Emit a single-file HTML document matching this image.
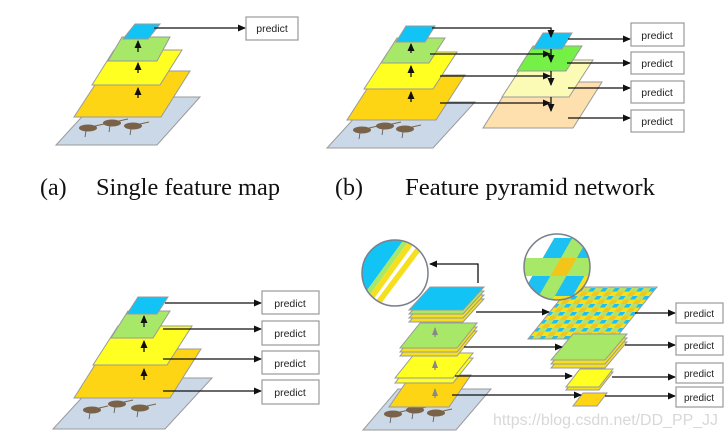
<!DOCTYPE html>
<html><head><meta charset="utf-8"><style>
html,body{margin:0;padding:0;background:#fff;}
svg{display:block;}
.b{stroke:#9a9a9a;stroke-width:1;}
.box{fill:#fff;stroke:#999;stroke-width:1.2;}
.pt{font-family:"Liberation Sans",sans-serif;font-size:10.5px;fill:#222;}
.ln{stroke:#111;stroke-width:1.3;fill:none;}
.cap{font-family:"Liberation Serif",serif;font-size:24px;fill:#111;}
</style></head><body>
<svg width="727" height="438" viewBox="0 0 727 438" xmlns="http://www.w3.org/2000/svg">
<defs>
<marker id="ah" markerWidth="8" markerHeight="8" refX="7" refY="4" orient="auto" markerUnits="userSpaceOnUse"><path d="M0,0.5 L8,4 L0,7.5z" fill="#111"/></marker>
<marker id="ag" markerWidth="8" markerHeight="8" refX="7" refY="4" orient="auto" markerUnits="userSpaceOnUse"><path d="M0,1 L8,4 L0,7z" fill="#888"/></marker>
<pattern id="chk" width="12" height="8" patternUnits="userSpaceOnUse" patternTransform="skewX(-38)">
<rect width="12" height="8" fill="#f5e020"/><rect x="0" y="0" width="5" height="3.5" fill="#1cc0f2"/><rect x="6" y="4" width="6" height="4" fill="#f2c51a"/><rect x="6" y="0" width="6" height="4" fill="#b5e070"/></pattern>
<g id="birds"><ellipse cx="0" cy="0" rx="9" ry="3.5" fill="#7a6248"/><line x1="7" y1="-2" x2="16" y2="-4" stroke="#7a6248" stroke-width="1"/><line x1="-2" y1="3" x2="-3" y2="9" stroke="#555" stroke-width="0.8"/></g>
</defs>

<!-- Panel (a) -->
<polygon points="56,145 157,145 200,97 100,97" fill="#cbd8e8" class="b"/>
<use href="#birds" x="88" y="128"/><use href="#birds" x="112" y="123"/><use href="#birds" x="133" y="126"/>
<polygon points="74,117 161,117 190,71 104,71" fill="#fdd515" class="b"/>
<polygon points="92,85 160,85 182,50 114,50" fill="#ffff22" class="b"/>
<polygon points="108,61 157,61 170,37 122,37" fill="#a8e868" class="b"/>
<polygon points="123,39 148,39 160,24 135,24" fill="#12c4f5" class="b"/>
<line class="ln" x1="138" y1="98" x2="138" y2="88" marker-end="url(#ah)"/>
<line class="ln" x1="138" y1="73" x2="138" y2="63" marker-end="url(#ah)"/>
<line class="ln" x1="138" y1="52" x2="138" y2="41" marker-end="url(#ah)"/>
<line class="ln" x1="154" y1="28" x2="245" y2="28" marker-end="url(#ah)"/>
<rect class="box" x="246" y="17" width="52" height="23"/><text class="pt" x="272" y="32" text-anchor="middle">predict</text>

<text class="cap" x="40" y="195">(a)</text>
<text class="cap" x="96" y="195" textLength="184" lengthAdjust="spacingAndGlyphs">Single feature map</text>
<text class="cap" x="335" y="195">(b)</text>
<text class="cap" x="405" y="195" textLength="250" lengthAdjust="spacingAndGlyphs">Feature pyramid network</text>

<!-- Panel (b) -->
<polygon points="327,148 433,148 475,102 369,102" fill="#cbd8e8" class="b"/>
<use href="#birds" x="362" y="130"/><use href="#birds" x="385" y="126"/><use href="#birds" x="405" y="129"/>
<polygon points="347,120 436,120 465,75 376,75" fill="#fdd515" class="b"/>
<polygon points="364,89 433,89 457,52 388,52" fill="#ffff22" class="b"/>
<polygon points="381,63 429,63 445,38 397,38" fill="#a8e868" class="b"/>
<polygon points="396,42 425,42 435,26 406,26" fill="#12c4f5" class="b"/>
<line class="ln" x1="411" y1="53" x2="411" y2="44" marker-end="url(#ah)"/>
<line class="ln" x1="411" y1="77" x2="411" y2="66" marker-end="url(#ah)"/>
<line class="ln" x1="411" y1="102" x2="411" y2="92" marker-end="url(#ah)"/>
<polygon points="483,128 573,128 602,82 512,82" fill="#fde0ad" class="b"/>
<polygon points="502,97 569,97 593,60 526,60" fill="#fbfbb5" class="b"/>
<polygon points="517,71 566,71 582,46 533,46" fill="#74f046" class="b"/>
<polygon points="533,49 562,49 572,33 543,33" fill="#12c4f5" class="b"/>
<polyline class="ln" points="432,28 551,28 551,37" marker-end="url(#ah)"/>
<line class="ln" x1="430" y1="54" x2="550" y2="54" marker-end="url(#ah)"/>
<line class="ln" x1="440" y1="76" x2="550" y2="76" marker-end="url(#ah)"/>
<line class="ln" x1="440" y1="103" x2="550" y2="103" marker-end="url(#ah)"/>
<line class="ln" x1="551" y1="49" x2="551" y2="62" marker-end="url(#ah)"/>
<line class="ln" x1="551" y1="71" x2="551" y2="85" marker-end="url(#ah)"/>
<line class="ln" x1="551" y1="97" x2="551" y2="111" marker-end="url(#ah)"/>
<line class="ln" x1="568" y1="39" x2="630" y2="39" marker-end="url(#ah)"/>
<line class="ln" x1="567" y1="63" x2="630" y2="63" marker-end="url(#ah)"/>
<line class="ln" x1="568" y1="88" x2="630" y2="88" marker-end="url(#ah)"/>
<line class="ln" x1="568" y1="118" x2="630" y2="118" marker-end="url(#ah)"/>
<rect class="box" x="631" y="23" width="53" height="23"/><text class="pt" x="657" y="39" text-anchor="middle">predict</text>
<rect class="box" x="631" y="52" width="53" height="22"/><text class="pt" x="657" y="67" text-anchor="middle">predict</text>
<rect class="box" x="631" y="81" width="53" height="22"/><text class="pt" x="657" y="96" text-anchor="middle">predict</text>
<rect class="box" x="631" y="110" width="53" height="22"/><text class="pt" x="657" y="125" text-anchor="middle">predict</text>

<!-- Panel (c) -->
<polygon points="53,429 165,429 212,378 100,378" fill="#cbd8e8" class="b"/>
<use href="#birds" x="92" y="410"/><use href="#birds" x="117" y="404"/><use href="#birds" x="140" y="408"/>
<polygon points="74,398 170,398 201,349 105,349" fill="#fdd515" class="b"/>
<polygon points="93,365 167,365 192,326 118,326" fill="#ffff22" class="b"/>
<polygon points="111,338 153,338 170,311 128,311" fill="#a8e868" class="b"/>
<polygon points="127,314 157,314 168,297 138,297" fill="#12c4f5" class="b"/>
<line class="ln" x1="144" y1="380" x2="144" y2="369" marker-end="url(#ah)"/>
<line class="ln" x1="144" y1="352" x2="144" y2="341" marker-end="url(#ah)"/>
<line class="ln" x1="144" y1="327" x2="144" y2="316" marker-end="url(#ah)"/>
<line class="ln" x1="165" y1="303" x2="261" y2="303" marker-end="url(#ah)"/>
<line class="ln" x1="163" y1="329" x2="261" y2="329" marker-end="url(#ah)"/>
<line class="ln" x1="163" y1="359" x2="261" y2="359" marker-end="url(#ah)"/>
<line class="ln" x1="163" y1="391" x2="261" y2="391" marker-end="url(#ah)"/>
<rect class="box" x="262" y="291" width="57" height="23"/><text class="pt" x="290" y="307" text-anchor="middle">predict</text>
<rect class="box" x="262" y="321" width="57" height="24"/><text class="pt" x="290" y="337" text-anchor="middle">predict</text>
<rect class="box" x="262" y="351" width="57" height="23"/><text class="pt" x="290" y="367" text-anchor="middle">predict</text>
<rect class="box" x="262" y="380" width="57" height="24"/><text class="pt" x="290" y="396" text-anchor="middle">predict</text>

<!-- Panel (d) left -->
<polygon points="363,430 456,430 491,389 398,389" fill="#cbd8e8" class="b"/>
<use href="#birds" x="393" y="414"/><use href="#birds" x="415" y="410"/><use href="#birds" x="436" y="413"/>
<polygon points="389,407 449,407 471,375 411,375" fill="#fdd515" class="b"/>
<polygon points="395,383 453,383 473,358 415,358" fill="#ffff22" class="b"/>
<polygon points="395,378 453,378 473,353 415,353" fill="#ffff22" class="b"/>
<polygon points="400,356 457,356 477,331 420,331" fill="#f5e020" class="b"/>
<polygon points="400,352 457,352 477,327 420,327" fill="#f5e020" class="b"/>
<polygon points="400,348 457,348 477,323 420,323" fill="#a8e868" class="b"/>
<polygon points="409,322 463,322 484,299 430,299" fill="#f5e020" class="b"/>
<polygon points="409,318 463,318 484,295 430,295" fill="#f5e020" class="b"/>
<polygon points="409,314 463,314 484,291 430,291" fill="#a8e868" class="b"/>
<polygon points="409,310 463,310 484,287 430,287" fill="#12c4f5" class="b"/>
<line x1="435" y1="337" x2="435" y2="328" stroke="#888" stroke-width="1.3" marker-end="url(#ag)"/>
<line x1="435" y1="370" x2="435" y2="361" stroke="#888" stroke-width="1.3" marker-end="url(#ag)"/>
<line x1="435" y1="398" x2="435" y2="389" stroke="#888" stroke-width="1.3" marker-end="url(#ag)"/>
<polyline class="ln" points="478,283 478,264 430,264" marker-end="url(#ah)"/>
<clipPath id="c1"><circle cx="395" cy="273" r="33"/></clipPath>
<g clip-path="url(#c1)"><rect x="360" y="238" width="72" height="72" fill="#fff"/>
<polygon points="355,238 405,238 360,300 355,300" fill="#12c4f5"/>
<polygon points="405,238 411,238 366,300 360,300" fill="#a8e868"/>
<polygon points="411,238 418,238 373,300 366,300" fill="#f5e020"/>
<polygon points="418,245 425,245 380,305 373,305" fill="#f5e020"/></g>
<circle cx="395" cy="273" r="33" fill="none" stroke="#7a7f8a" stroke-width="1.5"/>

<!-- Panel (d) right -->
<polygon points="528,339 615,339 657,287 570,287" fill="url(#chk)" class="b"/>
<polygon points="551,368 605,368 627,342 573,342" fill="#f5e020" class="b"/>
<polygon points="551,364 605,364 627,338 573,338" fill="#f5e020" class="b"/>
<polygon points="551,360 605,360 627,334 573,334" fill="#a8e868" class="b"/>
<polygon points="566,390 599,390 613,372 580,372" fill="#f5e020" class="b"/>
<polygon points="566,387 599,387 613,369 580,369" fill="#ffff22" class="b"/>
<polygon points="573,406 597,406 607,393 583,393" fill="#fdd515" class="b"/>
<clipPath id="c2"><circle cx="557" cy="267" r="33"/></clipPath>
<g clip-path="url(#c2)"><rect x="520" y="230" width="75" height="75" fill="#fff"/>
<g transform="translate(557,268) skewX(-30)">
<rect x="-20" y="-30" width="60" height="70" fill="#f5e020"/>
<rect x="-2" y="-30" width="16" height="70" fill="#a8e868"/>
<rect x="-40" y="-10" width="80" height="18" fill="#a8e868"/>
<rect x="-2" y="-10" width="16" height="18" fill="#f2c51a"/>
<rect x="-20" y="-30" width="18" height="20" fill="#1cc0f2"/>
<rect x="14" y="-30" width="18" height="20" fill="#1cc0f2"/>
<rect x="-20" y="8" width="18" height="20" fill="#1cc0f2"/>
<rect x="14" y="8" width="18" height="20" fill="#1cc0f2"/></g></g>
<circle cx="557" cy="267" r="33" fill="none" stroke="#7a7f8a" stroke-width="1.5"/>
<line class="ln" x1="476" y1="312" x2="549" y2="312" marker-end="url(#ah)"/>
<line class="ln" x1="464" y1="347" x2="562" y2="347" marker-end="url(#ah)"/>
<line class="ln" x1="455" y1="376" x2="572" y2="376" marker-end="url(#ah)"/>
<line class="ln" x1="452" y1="395" x2="581" y2="395" marker-end="url(#ah)"/>
<line class="ln" x1="635" y1="313" x2="675" y2="313" marker-end="url(#ah)"/>
<line class="ln" x1="625" y1="345" x2="675" y2="345" marker-end="url(#ah)"/>
<line class="ln" x1="612" y1="377" x2="675" y2="377" marker-end="url(#ah)"/>
<line class="ln" x1="605" y1="396" x2="675" y2="396" marker-end="url(#ah)"/>
<rect class="box" x="676" y="303" width="47" height="20"/><text class="pt" x="699" y="317" text-anchor="middle" style="font-size:10px">predict</text>
<rect class="box" x="676" y="336" width="47" height="19"/><text class="pt" x="699" y="349" text-anchor="middle" style="font-size:10px">predict</text>
<rect class="box" x="676" y="363" width="47" height="20"/><text class="pt" x="699" y="377" text-anchor="middle" style="font-size:10px">predict</text>
<rect class="box" x="676" y="387" width="47" height="20"/><text class="pt" x="699" y="401" text-anchor="middle" style="font-size:10px">predict</text>

<text x="493" y="425" font-family="Liberation Sans, sans-serif" font-size="15.5" fill="#d8d8d8" textLength="225" lengthAdjust="spacingAndGlyphs">https://blog.csdn.net/DD_PP_JJ</text>
</svg>
</body></html>
